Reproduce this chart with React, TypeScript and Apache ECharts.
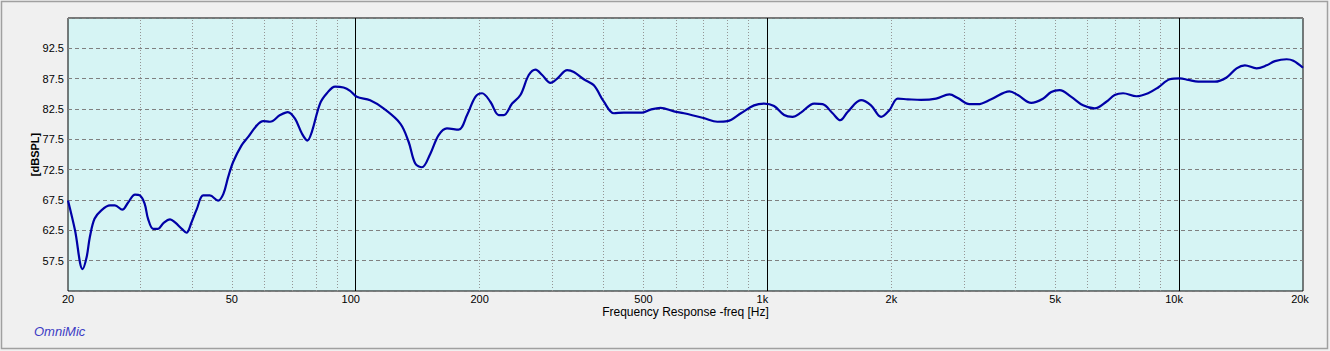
import React, { useEffect, useRef } from "react";
import * as echarts from "echarts";

// Frequency response (Hz) and level (dB SPL)
const freqHz = [
  20, 20.8, 21.7, 22.2, 22.6, 23.2, 24.1, 25.3, 26.0, 27.1, 28.0, 29.1, 29.9, 30.7, 31.3,
  32.2, 33.1, 34.1, 35.4, 36.4, 37.8, 38.8, 39.9, 41.1, 42.6, 44.2, 46.3, 47.7, 49.0, 50.4,
  52.8, 54.8, 57.5, 59.6, 61.9, 65.5, 68.4, 71.2, 74.0, 76.3, 78.2, 81.9, 85.1, 89.1, 93.4,
  96.9, 100.6, 108.4, 116.8, 128.3, 134.4, 139.5, 144.8, 151.7, 159.0, 166.6, 177.8, 186.4,
  195.3, 202.7, 212.3, 222.5, 228.8, 239.8, 251.2, 263.2, 273.3, 283.7, 297.2, 308.6, 326.4,
  338.6, 358.1, 378.8, 400.6, 423.6, 448.1, 496.6, 520, 550, 593, 627, 701, 756, 800, 862,
  928, 982, 1038, 1098, 1151, 1206, 1299, 1362, 1440, 1503, 1566, 1688, 1785, 1888, 1978,
  2073, 2193, 2362, 2569, 2768, 2901, 3097, 3245, 3496, 3873, 4059, 4375, 4671, 4893, 5125,
  5473, 5844, 6236, 6658, 6975, 7311, 7877, 8410, 8896, 9494, 10040, 10525, 11130, 12215,
  13044, 13795, 14451, 15430, 16320, 17097, 18253, 18950, 20000,
];
const splDb = [
  67.4, 62.5, 56.1, 58.1, 61.4, 64.4, 65.8, 66.6, 66.6, 65.9, 67.1, 68.4, 68.25, 66.9, 64.4,
  62.75, 62.75, 63.7, 64.3, 63.8, 62.75, 62.1, 63.8, 66.0, 68.25, 68.25, 67.4, 68.5, 71.3, 73.8,
  76.5, 77.9, 79.8, 80.5, 80.4, 81.5, 82.0, 80.9, 78.45, 77.3, 78.7, 83.4, 85.1, 86.2, 86.05,
  85.5, 84.5, 83.95, 82.6, 80.1, 77.1, 73.5, 72.9, 75.1, 78.2, 79.3, 79.1, 81.5,
  84.5, 85.1, 83.7, 81.5, 81.5, 83.4, 84.8, 88.1, 89.0, 88.1, 86.8, 87.5, 88.9,
  88.6, 87.4, 86.4, 83.7, 81.8, 81.9, 81.9, 82.4, 82.7, 82.1, 81.8, 81.0, 80.4, 80.5, 81.8,
  83.1, 83.4, 83.0, 81.5, 81.2, 81.9, 83.4, 83.3, 81.8, 80.65, 82.0, 83.95, 83.1, 81.2, 82.3,
  84.2, 84.1, 84.0, 84.2, 84.9, 84.3, 83.3, 83.3, 84.1, 85.4, 84.8, 83.5, 84.2, 85.3, 85.6,
  84.5, 83.1, 82.6, 83.7, 84.8, 85.1, 84.6, 85.1, 86.05, 87.4, 87.55, 87.3, 87.0, 87.0,
  87.7, 89.2, 89.7, 89.2, 89.7, 90.4, 90.7, 90.45, 89.3,
];

// Axis ticks / gridlines
const minorGridHz = [
  30, 40, 50, 60, 70, 80, 90,
  200, 300, 400, 500, 600, 700, 800, 900,
  2000, 3000, 4000, 5000, 6000, 7000, 8000, 9000,
];
const majorGridHz = [100, 1000, 10000];
const xTickHz = [20, 50, 100, 200, 500, 1000, 2000, 5000, 10000, 20000];
const xTickLabels = ["20", "50", "100", "200", "500", "1k", "2k", "5k", "10k", "20k"];
const xTickShiftLeft = [0, 0, 10, 0, 0, 10, 0, 0, 10, 6];
const yMin = 52.5;
const yMax = 97.5;
const yStep = 5;

const FONT = "'Liberation Sans', Arial, sans-serif";

export default function App() {
  const ref = useRef<HTMLDivElement>(null);

  useEffect(() => {
    document.body.style.margin = "0";
    if (!ref.current) return;
    const chart = echarts.init(ref.current, null, { renderer: "svg" });

    const gridLines: any[] = [
      ...minorGridHz.map((f) => ({
        xAxis: f,
        lineStyle: { type: [1, 2], color: "#959595", width: 1 },
        label: { show: false },
      })),
      ...majorGridHz.map((f) => ({
        xAxis: f,
        lineStyle: { type: "solid", color: "#000000", width: 1 },
        label: { show: false },
      })),
    ];
    const tickLabels: any[] = xTickHz.map((f, i) => ({
      xAxis: f,
      name: xTickLabels[i],
      lineStyle: { color: "rgba(0,0,0,0)", width: 0 },
      label: {
        show: true,
        position: "start",
        formatter: xTickLabels[i],
        distance: 2,
        color: "#000",
        fontSize: 11,
        fontFamily: FONT,
        padding: [0, xTickShiftLeft[i], 0, 0],
      },
    }));

    chart.setOption({
      animation: false,
      backgroundColor: "#f0f0f0",
      grid: {
        left: 68,
        top: 18,
        width: 1235,
        height: 273,
        show: true,
        backgroundColor: "#d6f4f4",
        borderColor: "#000000",
        borderWidth: 1,
        containLabel: false,
      },
      xAxis: {
        type: "log",
        logBase: 10,
        min: 20,
        max: 20000,
        name: "Frequency Response -freq [Hz]",
        nameLocation: "middle",
        nameGap: 15,
        nameMoveOverlap: false,
        nameTextStyle: { color: "#000", fontSize: 12, fontFamily: FONT },
        axisLine: { show: false },
        axisTick: { show: false },
        axisLabel: { show: false },
        splitLine: { show: false },
      },
      yAxis: {
        type: "value",
        min: yMin,
        max: yMax,
        interval: yStep,
        name: "[dBSPL]",
        nameLocation: "middle",
        nameRotate: 90,
        nameGap: 28,
        nameMoveOverlap: false,
        nameTextStyle: { color: "#000", fontSize: 11, fontWeight: "bold", fontFamily: FONT },
        axisLine: { show: false },
        axisTick: { show: false },
        axisLabel: {
          show: true,
          showMinLabel: false,
          showMaxLabel: false,
          color: "#000",
          fontSize: 11,
          fontFamily: FONT,
          margin: 4,
          formatter: (v: number) => v.toFixed(1),
        },
        splitLine: {
          show: true,
          lineStyle: { color: "#808080", type: [4, 3], width: 1 },
        },
      },
      series: [
        {
          type: "line",
          data: [],
          silent: true,
          z: 1,
          markLine: {
            silent: true,
            z: 1,
            symbol: ["none", "none"],
            animation: false,
            data: [...gridLines, ...tickLabels],
          },
        },
        {
          type: "line",
          name: "SPL",
          z: 5,
          data: freqHz.map((f, i) => [f, splDb[i]]),
          showSymbol: false,
          smooth: 0.35,
          lineStyle: { color: "#0000a6", width: 2.2 },
          itemStyle: { color: "#0000a6" },
        },
      ],
      graphic: [
        {
          type: "rect",
          shape: { x: 1.5, y: 1.5, width: 1326, height: 347 },
          style: { fill: "none", stroke: "#a0a0a0", lineWidth: 1.5 },
          silent: true,
        },
        {
          type: "text",
          left: 34,
          top: 325,
          style: {
            text: "OmniMic",
            fill: "#3c3cc4",
            font: `italic 13px ${FONT}`,
          },
        },
      ],
    });

    return () => chart.dispose();
  }, []);

  return <div ref={ref} style={{ width: 1330, height: 351 }} />;
}
